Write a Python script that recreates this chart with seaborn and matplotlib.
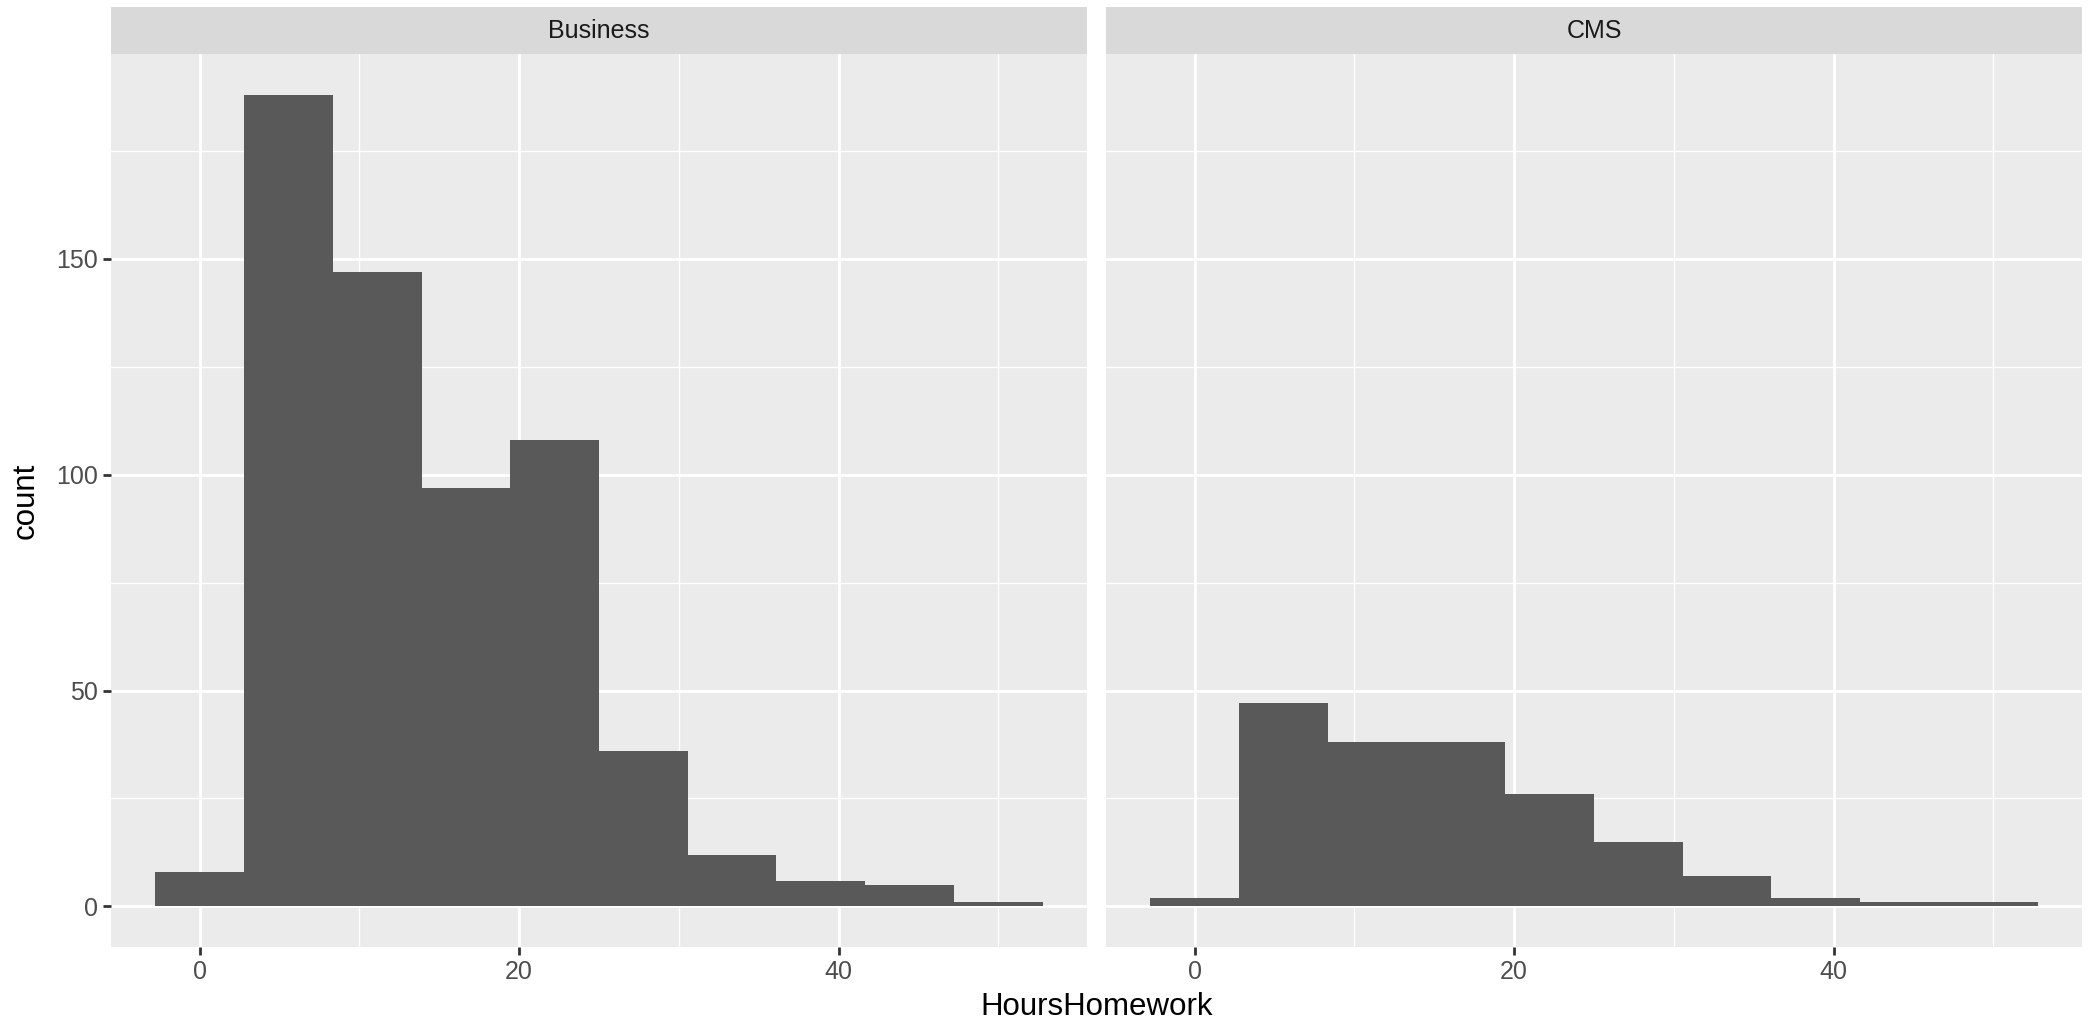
import numpy as np
import pandas as pd
import matplotlib
matplotlib.use("Agg")
import matplotlib.pyplot as plt
import seaborn as sns

# ---- data ----
facets = ["Business", "CMS"]
bin_width = 50 / 9
bin_centers = [i * bin_width for i in range(10)]
business_counts = [8, 188, 147, 97, 108, 36, 12, 6, 5, 1]
cms_counts = [2, 47, 38, 38, 26, 15, 7, 2, 1, 1]
x_ticks = [0, 20, 40]
y_ticks = [0, 50, 100, 150]

sns.set_theme(style="darkgrid")
plt.rcParams["font.family"] = ["Liberation Sans", "DejaVu Sans"]

df = pd.concat([
    pd.DataFrame({"HoursHomework": bin_centers, "count": business_counts, "facet": "Business"}),
    pd.DataFrame({"HoursHomework": bin_centers, "count": cms_counts, "facet": "CMS"}),
])

edges = [bin_centers[0] - bin_width / 2 + i * bin_width for i in range(11)]

W, H = 2092, 1024
fig = plt.figure(figsize=(W / 100, H / 100), dpi=100)
fig.patch.set_facecolor("white")

panel_x = [(111, 1087), (1106, 2082)]
panel_top, panel_bot = 54, 947
strip_top = 7

xlim = (edges[0] - 0.05 * (edges[-1] - edges[0]), edges[-1] + 0.05 * (edges[-1] - edges[0]))
ymax = max(business_counts + cms_counts)
ylim = (-0.05 * ymax, ymax * 1.05)

for i, (name, (x0, x1)) in enumerate(zip(facets, panel_x)):
    ax = fig.add_axes([x0 / W, 1 - panel_bot / H, (x1 - x0) / W, (panel_bot - panel_top) / H])
    ax.set_facecolor("#EBEBEB")
    sub = df[df["facet"] == name]
    sns.histplot(data=sub, x="HoursHomework", weights="count", bins=edges,
                 color="#595959", alpha=1, linewidth=0, ax=ax, zorder=3)
    ax.set_xlim(*xlim)
    ax.set_ylim(*ylim)
    ax.set_xticks(x_ticks)
    ax.set_xticks([10, 30, 50], minor=True)
    ax.set_yticks(y_ticks)
    ax.set_yticks([25, 75, 125, 175], minor=True)
    ax.grid(which="major", color="white", linewidth=2.0, zorder=0)
    ax.grid(which="minor", color="white", linewidth=1.0, zorder=0)
    ax.set_axisbelow(True)
    for s in ax.spines.values():
        s.set_visible(False)
    ax.tick_params(axis="both", which="major", length=5.5, width=2, color="#333333",
                   labelsize=18, labelcolor="#4D4D4D", pad=4, direction="out",
                   bottom=True, left=(i == 0))
    ax.tick_params(axis="both", which="minor", length=0)
    ax.set_xlabel("")
    ax.set_ylabel("")
    if i == 1:
        ax.set_yticklabels([])
    # strip
    sax = fig.add_axes([x0 / W, 1 - panel_top / H, (x1 - x0) / W, (panel_top - strip_top) / H])
    sax.set_facecolor("#D9D9D9")
    sax.set_xticks([]); sax.set_yticks([])
    for s in sax.spines.values():
        s.set_visible(False)
    sax.grid(False)
    sax.text(0.5, 0.5, name, ha="center", va="center", fontsize=18, color="#1A1A1A",
             transform=sax.transAxes)

fig.text((111 + 2082) / 2 / W, 1 - 1007 / H, "HoursHomework", ha="center", va="center",
         fontsize=22.5, color="black")
fig.text(26 / W, 1 - (panel_top + panel_bot) / 2 / H, "count", ha="center", va="center",
         rotation=90, fontsize=22.5, color="black")

fig.savefig("out.png", dpi=100, facecolor="white")
